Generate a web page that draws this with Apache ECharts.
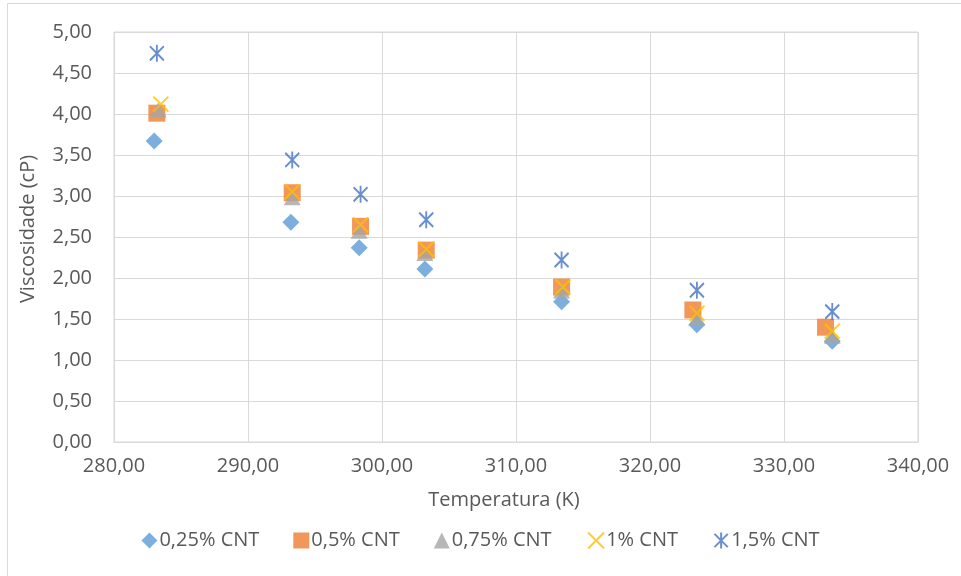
<!DOCTYPE html>
<html>
<head>
<meta charset="utf-8">
<script src="https://cdn.jsdelivr.net/npm/echarts@6/dist/echarts.min.js"></script>
<style>
html,body{margin:0;padding:0;background:#fff;}
#c{width:961px;height:576px;}
</style>
</head>
<body>
<div id="c"></div>
<script>
const seriesNames = ['0,25% CNT', '0,5% CNT', '0,75% CNT', '1% CNT', '1,5% CNT'];
const temp025 = [283.0, 293.2, 298.3, 303.2, 313.4, 323.5, 333.6];
const visc025 = [3.67, 2.68, 2.37, 2.11, 1.71, 1.43, 1.23];
const temp05 = [283.2, 293.3, 298.4, 303.3, 313.4, 323.2, 333.1];
const visc05 = [4.01, 3.04, 2.63, 2.34, 1.89, 1.61, 1.40];
const temp075 = [283.3, 293.3, 298.3, 303.2, 313.4, 323.5, 333.6];
const visc075 = [4.05, 2.98, 2.57, 2.30, 1.84, 1.51, 1.29];
const temp1 = [283.5, 293.3, 298.4, 303.3, 313.5, 323.5, 333.6];
const visc1 = [4.12, 3.05, 2.65, 2.35, 1.89, 1.57, 1.35];
const temp15 = [283.2, 293.3, 298.4, 303.3, 313.4, 323.5, 333.6];
const visc15 = [4.74, 3.44, 3.02, 2.71, 2.22, 1.85, 1.59];
const xTicks = {min: 280, max: 340, step: 10};
const yTicks = {min: 0, max: 5, step: 0.5};

function pairs(xs, ys){ return xs.map((x,i)=>[x, ys[i]]); }
const fmt = v => v.toFixed(2).replace('.', ',');
const font = 'Open Sans';
const txt = '#595959';

const crossPath = 'path://M0,0L10,10M10,0L0,10';
const starPath = 'path://M0,0L10,10M10,0L0,10M5,-1L5,11';

const chart = echarts.init(document.getElementById('c'));
chart.setOption({
  animation: false,
  backgroundColor: '#fff',
  graphic: [{type:'rect', shape:{x:7.5,y:3.5,width:960,height:580}, style:{fill:'none', stroke:'#d9d9d9', lineWidth:1}, silent:true}],
  grid: {left:114, right:43, top:32, bottom:134, show:true, borderColor:'#d9d9d9', borderWidth:1},
  legend: {
    bottom: 20, left: 'center', itemGap: 34, itemWidth: 16, itemHeight: 16,
    textStyle: {color: txt, fontFamily: font, fontSize: 20, padding:[0,0,0,-3]},
    data: seriesNames
  },
  xAxis: {
    type: 'value', min: xTicks.min, max: xTicks.max, interval: xTicks.step,
    name: 'Temperatura (K)', nameLocation: 'middle', nameGap: 48,
    nameTextStyle: {color: txt, fontFamily: font, fontSize: 20, padding: [0, 24, 0, 0]},
    axisLine: {show: true, lineStyle: {color: '#d9d9d9'}},
    axisTick: {show: false},
    splitLine: {show: true, lineStyle: {color: '#d9d9d9', width: 1}},
    axisLabel: {color: txt, fontFamily: font, fontSize: 20, margin: 14, formatter: fmt}
  },
  yAxis: {
    type: 'value', min: yTicks.min, max: yTicks.max, interval: yTicks.step,
    name: 'Viscosidade (cP)', nameLocation: 'middle', nameGap: 76, nameRotate: 90,
    nameTextStyle: {color: txt, fontFamily: font, fontSize: 20, padding: [0, 0, 0, 16]},
    axisLine: {show: false},
    axisTick: {show: false},
    splitLine: {show: true, lineStyle: {color: '#d9d9d9', width: 1}},
    axisLabel: {color: txt, fontFamily: font, fontSize: 20, margin: 22, formatter: fmt}
  },
  series: [
    {name: seriesNames[0], type: 'scatter', symbol: 'diamond', symbolSize: 17,
     itemStyle: {color: '#5B9BD5'}, data: pairs(temp025, visc025), z: 2},
    {name: seriesNames[1], type: 'scatter', symbol: 'rect', symbolSize: 17,
     itemStyle: {color: '#ED7D31'}, data: pairs(temp05, visc05), z: 3},
    {name: seriesNames[2], type: 'scatter', symbol: 'triangle', symbolSize: [17,15],
     itemStyle: {color: '#A5A5A5'}, data: pairs(temp075, visc075), z: 4},
    {name: seriesNames[3], type: 'scatter', symbol: crossPath, symbolSize: 15,
     itemStyle: {color: 'none', borderColor: '#FFC000', borderWidth: 2}, data: pairs(temp1, visc1), z: 5},
    {name: seriesNames[4], type: 'scatter', symbol: starPath, symbolSize: [14,17],
     itemStyle: {color: 'none', borderColor: '#4472C4', borderWidth: 2}, data: pairs(temp15, visc15), z: 6}
  ]
});
</script>
</body>
</html>
